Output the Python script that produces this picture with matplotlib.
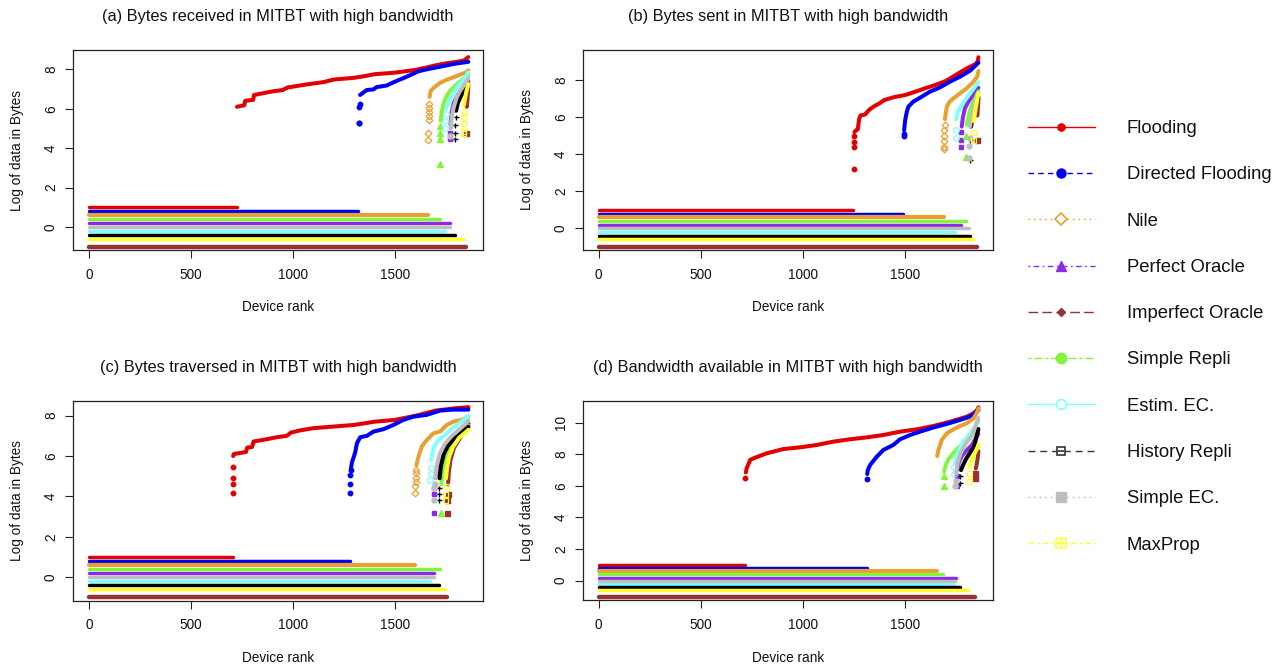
import matplotlib
matplotlib.use("Agg")
import matplotlib.pyplot as plt

plt.rcParams["font.family"] = ["Liberation Sans", "DejaVu Sans"]

W, H, DPI = 1283, 669, 100

# ---------------------------------------------------------------- series
SERIES = ["Flooding", "Directed Flooding", "Nile", "Perfect Oracle",
          "Imperfect Oracle", "Simple Repli", "Estim. EC.", "History Repli",
          "Simple EC.", "MaxProp"]
COLORS = ["#E30000", "#0000F2", "#E8A030", "#8C2BE6", "#963232",
          "#84F53C", "#80FFFF", "#000000", "#BEBEBE", "#FFFF30"]
# offset at which devices carrying no data are drawn
ZERO_LEVELS = [1.0, 0.8, 0.6, 0.2, -1.0, 0.4, -0.2, -0.4, 0.0, -0.6]

TITLES = ["(a) Bytes received in MITBT with high bandwidth",
          "(b) Bytes sent in MITBT with high bandwidth",
          "(c) Bytes traversed in MITBT with high bandwidth",
          "(d) Bandwidth available in MITBT with high bandwidth"]
X_TICKS = [0, 500, 1000, 1500]
Y_TICKS_BYTES = [0, 2, 4, 6, 8]
Y_TICKS_BW = [0, 2, 4, 6, 8, 10]

# ------------------------------------------------- (a) bytes received
RECV_ZERO = [725, 1322, 1664, 1770, 1851, 1722, 1745, 1796, 1772, 1834]
RECV_TAIL = {
    "Flooding": ([], []),
    "Directed Flooding": ([1323, 1325, 1327, 1328], [5.28, 5.28, 6.1, 6.22]),
    "Nile": ([1665, 1665, 1666, 1667, 1668, 1669, 1670], [4.4, 4.75, 5.45, 5.65, 5.85, 6.05, 6.25]),
    "Perfect Oracle": ([1771, 1771], [4.45, 4.75]),
    "Imperfect Oracle": ([1852], [4.75]),
    "Simple Repli": ([1723, 1723, 1723, 1724], [3.22, 4.45, 4.75, 5.1]),
    "Estim. EC.": ([1747, 1748, 1750], [5.0, 5.4, 5.75]),
    "History Repli": ([1797, 1797, 1798, 1799], [4.45, 4.75, 5.2, 5.6]),
    "Simple EC.": ([1773], [4.6]),
    "MaxProp": ([1835, 1835, 1836, 1837, 1838], [4.75, 4.85, 5.3, 5.6, 5.9]),
}
RECV_BODY = {
    "Flooding": ([726, 762, 766, 805, 810, 860, 900, 950, 975, 1000, 1060, 1100, 1150,
                  1200, 1300, 1350, 1400, 1500, 1600, 1650, 1700, 1750, 1800, 1840, 1861],
                 [6.1, 6.18, 6.4, 6.45, 6.7, 6.8, 6.88, 6.95, 7.08, 7.12, 7.22, 7.28, 7.35,
                  7.48, 7.57, 7.65, 7.75, 7.83, 7.97, 8.08, 8.2, 8.3, 8.37, 8.45, 8.62]),
    "Directed Flooding": ([1330, 1346, 1363, 1395, 1412, 1461, 1485, 1518, 1542, 1575,
                           1616, 1657, 1706, 1755, 1804, 1861],
                          [6.7, 6.82, 6.95, 6.98, 7.1, 7.18, 7.3, 7.45, 7.55, 7.7,
                           7.9, 8.0, 8.1, 8.2, 8.3, 8.38]),
    "Nile": ([1671, 1676, 1690, 1720, 1755, 1804, 1853, 1861],
             [6.6, 6.9, 7.05, 7.3, 7.47, 7.66, 7.86, 7.95]),
    "Perfect Oracle": ([1773, 1778, 1790, 1810, 1835, 1861], [5.2, 5.8, 6.3, 6.7, 7.05, 7.4]),
    "Imperfect Oracle": ([1854, 1857, 1860, 1861], [6.1, 6.5, 6.9, 7.2]),
    "Simple Repli": ([1726, 1730, 1738, 1750, 1770, 1800, 1830, 1861],
                     [5.4, 5.8, 6.2, 6.55, 6.9, 7.2, 7.45, 7.7]),
    "Estim. EC.": ([1752, 1760, 1772, 1790, 1805, 1838, 1861], [6.0, 6.2, 6.45, 6.8, 7.1, 7.45, 7.85]),
    "History Repli": ([1801, 1810, 1825, 1845, 1861], [5.9, 6.3, 6.65, 6.95, 7.25]),
    "Simple EC.": ([1775, 1780, 1790, 1805, 1820, 1840, 1861], [5.0, 5.6, 6.1, 6.6, 6.9, 7.2, 7.55]),
    "MaxProp": ([1840, 1845, 1852, 1861], [6.2, 6.55, 6.9, 7.25]),
}

# ----------------------------------------------------- (b) bytes sent
SENT_ZERO = [1248, 1493, 1690, 1774, 1852, 1799, 1748, 1820, 1815, 1833]
SENT_TAIL = {
    "Flooding": ([1249, 1250, 1251, 1252], [3.2, 4.4, 4.65, 5.0]),
    "Directed Flooding": ([1494, 1495], [5.0, 5.1]),
    "Nile": ([1691, 1691, 1692, 1693, 1694, 1695], [4.3, 4.4, 4.7, 5.0, 5.3, 5.6]),
    "Perfect Oracle": ([1775, 1776, 1777], [4.4, 4.75, 5.2]),
    "Imperfect Oracle": ([1853], [4.77]),
    "Simple Repli": ([1800, 1801], [3.84, 5.0]),
    "Estim. EC.": ([1749, 1750], [4.86, 5.3]),
    "History Repli": ([1821, 1822], [3.69, 4.8]),
    "Simple EC.": ([1816, 1817, 1818], [3.8, 4.47, 4.9]),
    "MaxProp": ([1834, 1835], [4.75, 5.2]),
}
SENT_BODY = {
    "Flooding": ([1253, 1262, 1270, 1276, 1283, 1305, 1325, 1350, 1375, 1400, 1450, 1500,
                  1550, 1600, 1650, 1700, 1750, 1800, 1850, 1858, 1861],
                 [5.2, 5.3, 5.35, 5.9, 6.1, 6.15, 6.4, 6.6, 6.75, 6.94, 7.1, 7.2,
                  7.38, 7.57, 7.75, 7.96, 8.29, 8.62, 8.9, 9.05, 9.25]),
    "Directed Flooding": ([1497, 1502, 1510, 1518, 1542, 1575, 1624, 1673, 1722, 1771, 1820, 1861],
                          [5.3, 5.85, 6.3, 6.58, 6.85, 7.06, 7.39, 7.62, 7.93, 8.2, 8.52, 8.95]),
    "Nile": ([1697, 1702, 1706, 1720, 1739, 1771, 1804, 1837, 1855, 1861],
             [5.9, 6.3, 6.58, 6.85, 7.03, 7.3, 7.57, 7.93, 8.2, 8.5]),
    "Perfect Oracle": ([1779, 1785, 1795, 1815, 1840, 1861], [5.5, 6.0, 6.5, 6.9, 7.25, 7.6]),
    "Imperfect Oracle": ([1856, 1859, 1861], [6.1, 6.6, 7.0]),
    "Simple Repli": ([1804, 1815, 1830, 1845, 1861], [5.6, 6.2, 6.7, 7.0, 7.4]),
    "Estim. EC.": ([1752, 1760, 1775, 1800, 1830, 1861], [5.9, 6.3, 6.6, 7.0, 7.45, 7.9]),
    "History Repli": ([1825, 1835, 1848, 1861], [5.5, 6.1, 6.6, 7.1]),
    "Simple EC.": ([1820, 1830, 1845, 1861], [5.5, 6.2, 6.8, 7.3]),
    "MaxProp": ([1838, 1845, 1853, 1861], [5.8, 6.3, 6.8, 7.3]),
}

# ------------------------------------------------ (c) bytes traversed
TRAV_ZERO = [704, 1280, 1600, 1692, 1757, 1724, 1673, 1716, 1693, 1747]
TRAV_TAIL = {
    "Flooding": ([705, 705, 706, 706], [4.16, 4.6, 4.9, 5.45]),
    "Directed Flooding": ([1281, 1281, 1282, 1283], [4.16, 4.62, 5.07, 5.3]),
    "Nile": ([1601, 1601, 1602, 1602, 1603, 1604], [4.16, 4.5, 4.7, 4.9, 5.15, 5.3]),
    "Perfect Oracle": ([1693, 1693, 1694], [3.2, 4.1, 4.4]),
    "Imperfect Oracle": ([1758, 1758, 1759], [3.2, 3.8, 4.1]),
    "Simple Repli": ([1725], [3.2]),
    "Estim. EC.": ([1674, 1675, 1676], [4.8, 5.1, 5.4]),
    "History Repli": ([1717, 1717, 1718], [3.8, 4.1, 4.4]),
    "Simple EC.": ([1694, 1694, 1695], [3.8, 4.4, 4.6]),
    "MaxProp": ([1748, 1748, 1749], [3.8, 4.1, 4.5]),
}
TRAV_BODY = {
    "Flooding": ([707, 710, 770, 776, 800, 807, 870, 920, 970, 990, 1040, 1100, 1200,
                  1300, 1400, 1500, 1600, 1700, 1800, 1861],
                 [6.0, 6.1, 6.2, 6.42, 6.45, 6.72, 6.83, 6.93, 7.0, 7.16, 7.28, 7.38, 7.46,
                  7.54, 7.7, 7.79, 7.99, 8.25, 8.37, 8.42]),
    "Directed Flooding": ([1285, 1290, 1300, 1306, 1314, 1330, 1363, 1395, 1444, 1493,
                           1542, 1592, 1657, 1722, 1788, 1861],
                          [5.4, 5.7, 6.0, 6.2, 6.63, 6.93, 7.0, 7.21, 7.33, 7.54,
                           7.79, 7.95, 8.04, 8.25, 8.3, 8.3]),
    "Nile": ([1606, 1612, 1620, 1632, 1657, 1690, 1722, 1755, 1788, 1828, 1861],
             [5.55, 5.8, 6.1, 6.47, 6.8, 7.13, 7.21, 7.54, 7.71, 7.79, 7.95]),
    "Perfect Oracle": ([1700, 1712, 1725, 1745, 1775, 1815, 1861], [4.9, 5.4, 5.9, 6.4, 6.85, 7.2, 7.6]),
    "Imperfect Oracle": ([1761, 1765, 1773, 1790, 1820, 1861], [4.6, 5.2, 5.8, 6.4, 6.9, 7.6]),
    "Simple Repli": ([1728, 1735, 1750, 1775, 1810, 1861], [4.6, 5.4, 6.0, 6.6, 7.0, 7.5]),
    "Estim. EC.": ([1678, 1685, 1695, 1710, 1740, 1780, 1820, 1861],
                   [5.8, 6.2, 6.5, 6.75, 7.0, 7.35, 7.65, 8.0]),
    "History Repli": ([1720, 1726, 1740, 1760, 1790, 1825, 1861], [4.9, 5.5, 6.1, 6.5, 6.85, 7.15, 7.45]),
    "Simple EC.": ([1698, 1705, 1720, 1745, 1780, 1820, 1861], [4.9, 5.5, 6.1, 6.6, 7.0, 7.35, 7.75]),
    "MaxProp": ([1751, 1756, 1766, 1785, 1815, 1861], [4.9, 5.4, 5.95, 6.45, 6.9, 7.3]),
}

# ----------------------------------------------- (d) bandwidth available
BW_ZERO = [717, 1313, 1658, 1753, 1843, 1689, 1741, 1771, 1747, 1812]
BW_TAIL = {
    "Flooding": ([718], [6.52]),
    "Directed Flooding": ([1314], [6.41]),
    "Nile": ([], []),
    "Perfect Oracle": ([1754, 1755], [6.0, 6.6]),
    "Imperfect Oracle": ([1844, 1845], [6.5, 6.8]),
    "Simple Repli": ([1690, 1691], [6.0, 6.65]),
    "Estim. EC.": ([1742, 1743], [6.75, 7.2]),
    "History Repli": ([1772, 1773], [6.2, 6.6]),
    "Simple EC.": ([1748, 1749], [6.0, 6.3]),
    "MaxProp": ([1813, 1814], [6.3, 6.8]),
}
BW_BODY = {
    "Flooding": ([721, 725, 733, 742, 758, 790, 823, 905, 987, 1069, 1150, 1232, 1314,
                  1395, 1477, 1559, 1641, 1722, 1804, 1837, 1852, 1861],
                 [6.85, 7.11, 7.35, 7.64, 7.74, 7.9, 8.06, 8.33, 8.44, 8.59, 8.8, 8.95, 9.07,
                  9.22, 9.43, 9.58, 9.79, 10.06, 10.38, 10.59, 10.75, 10.97]),
    "Directed Flooding": ([1316, 1319, 1330, 1363, 1395, 1444, 1477, 1526, 1575, 1641,
                           1706, 1771, 1820, 1861],
                          [6.75, 7.0, 7.32, 7.85, 8.27, 8.59, 8.95, 9.22, 9.43, 9.7,
                           9.92, 10.17, 10.38, 10.8]),
    "Nile": ([1659, 1665, 1681, 1706, 1739, 1771, 1804, 1837, 1856, 1861],
             [7.89, 8.27, 8.9, 9.32, 9.58, 9.79, 9.96, 10.27, 10.7, 10.9]),
    "Perfect Oracle": ([1758, 1765, 1780, 1800, 1830, 1861], [7.0, 7.5, 7.9, 8.2, 8.6, 9.3]),
    "Imperfect Oracle": ([1848, 1853, 1858, 1861], [7.1, 7.4, 7.8, 8.2]),
    "Simple Repli": ([1693, 1700, 1715, 1740, 1770, 1810, 1861], [6.9, 7.3, 7.7, 8.1, 8.5, 8.95, 9.55]),
    "Estim. EC.": ([1746, 1755, 1770, 1790, 1820, 1861], [7.4, 7.9, 8.4, 8.85, 9.3, 10.05]),
    "History Repli": ([1776, 1785, 1800, 1820, 1840, 1861], [7.0, 7.3, 7.7, 8.1, 8.5, 9.6]),
    "Simple EC.": ([1752, 1760, 1775, 1800, 1830, 1861], [6.8, 7.5, 8.1, 8.7, 9.2, 10.3]),
    "MaxProp": ([1818, 1828, 1840, 1852, 1861], [7.2, 7.6, 8.0, 8.3, 8.6]),
}

# ----------------------------------------------------------- styling
# point symbols used inside the panels
PANEL_MARKERS = [
    dict(marker="o", ms=3.2),
    dict(marker="o", ms=3.2),
    dict(marker="D", ms=3.4, mfc="none", mew=0.9),
    dict(marker="s", ms=3.2),
    dict(marker="s", ms=3.6),
    dict(marker="^", ms=3.8),
    dict(marker="o", ms=4.0, mfc="none", mew=0.9),
    dict(marker="+", ms=3.6, mew=1.0),
    dict(marker="o", ms=3.6),
    dict(marker="s", ms=3.6, mfc="none", mew=0.9),
]
BAR_WIDTHS = [2.5, 2.5, 3.0, 2.5, 3.2, 2.5, 2.5, 2.5, 2.5, 2.5]
CURVE_WIDTH = 2.9

# legend line styles and symbols
LEGEND_DASH = ["-", (0, (4, 3)), (0, (1.2, 2.8)), (0, (1.2, 2.5, 4, 2.5)),
               (0, (7, 3)), (0, (2.2, 2, 6, 2)), "-", (0, (5, 3.5)),
               (0, (1.2, 2.8)), (0, (4, 2.5, 1.2, 2.5))]
LEGEND_MARKERS = [
    [dict(marker="o", ms=5.2)],
    [dict(marker="o", ms=6.5)],
    [dict(marker="D", ms=6.5, mfc="white", mew=1.2)],
    [dict(marker="^", ms=7.5)],
    [dict(marker="D", ms=4.2)],
    [dict(marker="o", ms=7.5)],
    [dict(marker="o", ms=7.0, mfc="white", mew=1.2)],
    [dict(marker="s", ms=6.0, mfc="white", mew=1.2), dict(marker="_", ms=5.0, mew=1.2)],
    [dict(marker="s", ms=6.8)],
    [dict(marker="s", ms=6.6, mfc="white", mew=1.1), dict(marker="+", ms=6.6, mew=1.1)],
]
LEGEND_LINE_COLORS = list(COLORS)
LEGEND_LINE_COLORS[7] = "#333333"

FONT = 9.8


def px_box(left, top, right, bottom):
    return [left / W, 1 - bottom / H, (right - left) / W, (bottom - top) / H]


def draw_panel(ax, zero_counts, tails, bodies, yticks, xlim, ylim):
    for i, name in enumerate(SERIES):
        color = COLORS[i]
        level = ZERO_LEVELS[i]
        ax.plot([1, zero_counts[i]], [level, level], color=color,
                lw=BAR_WIDTHS[i], solid_capstyle="round", zorder=2 + i * 0.01)
        ranks, vals = bodies[name]
        ax.plot(ranks, vals, color=color, lw=CURVE_WIDTH, solid_capstyle="round",
                solid_joinstyle="round", zorder=3 + i * 0.01)
        tr, tv = tails[name]
        if tr:
            style = dict(PANEL_MARKERS[i])
            style.setdefault("mfc", color)
            ax.plot(tr, tv, ls="none", color=color, mec=color, zorder=3 + i * 0.01,
                    **style)
    ax.set_xlim(*xlim)
    ax.set_ylim(*ylim)
    ax.set_xticks(X_TICKS)
    ax.set_yticks(yticks)
    ax.tick_params(direction="out", length=5.5, width=0.8, labelsize=FONT,
                   color="#222222", labelcolor="#111111")
    ax.tick_params(axis="x", pad=7.2)
    ax.tick_params(axis="y", pad=5.6, labelrotation=90)
    for lbl in ax.get_yticklabels():
        lbl.set_va("center")
    for sp in ax.spines.values():
        sp.set_linewidth(0.9)
        sp.set_color("#222222")


fig = plt.figure(figsize=(W / DPI, H / DPI), dpi=DPI)

panels = [
    (px_box(73.3, 50, 483, 250.3), RECV_ZERO, RECV_TAIL, RECV_BODY, Y_TICKS_BYTES,
     (-77, 1933), (-1.18, 8.98)),
    (px_box(583.3, 50, 992.7, 250), SENT_ZERO, SENT_TAIL, SENT_BODY, Y_TICKS_BYTES,
     (-75.5, 1931), (-1.17, 9.64)),
    (px_box(73.3, 400.7, 482.7, 600.7), TRAV_ZERO, TRAV_TAIL, TRAV_BODY, Y_TICKS_BYTES,
     (-77, 1931), (-1.16, 8.74)),
    (px_box(583.3, 400.7, 992.7, 600), BW_ZERO, BW_TAIL, BW_BODY, Y_TICKS_BW,
     (-75.5, 1931), (-1.22, 11.39)),
]
title_y = [17, 17, 367.3, 367.3]
ylabel_x = [17.3, 526.7, 17.3, 526.7]
xlabel_y = [307, 307, 658.3, 658.3]

for k, (box, zc, tails, bodies, yt, xl, yl) in enumerate(panels):
    ax = fig.add_axes(box)
    draw_panel(ax, zc, tails, bodies, yt, xl, yl)
    left_px = box[0] * W
    right_px = (box[0] + box[2]) * W
    top_px = (1 - box[1] - box[3]) * H
    bot_px = (1 - box[1]) * H
    cx = (left_px + right_px) / 2
    cy = (top_px + bot_px) / 2
    fig.text(cx / W, 1 - title_y[k] / H, TITLES[k], ha="center", va="center",
             fontsize=11.75, color="#111111")
    fig.text(ylabel_x[k] / W, 1 - cy / H, "Log of data in Bytes", rotation=90,
             ha="center", va="center", fontsize=FONT, color="#111111")
    fig.text(cx / W, 1 - xlabel_y[k] / H, "Device rank", ha="center", va="center",
             fontsize=FONT, color="#111111")

# ------------------------------------------------------------- legend
lax = fig.add_axes([0, 0, 1, 1], facecolor="none")
lax.set_xlim(0, W)
lax.set_ylim(H, 0)
lax.axis("off")
row_y0, row_step = 126.7, 46.3
for i, name in enumerate(SERIES):
    y = row_y0 + i * row_step
    lax.plot([1028, 1095], [y, y], color=LEGEND_LINE_COLORS[i], lw=1.0,
             linestyle=LEGEND_DASH[i])
    for m in LEGEND_MARKERS[i]:
        style = dict(m)
        style.setdefault("mfc", COLORS[i])
        mcol = LEGEND_LINE_COLORS[i]
        lax.plot([1061], [y], ls="none", color=mcol, mec=mcol, **style)
    lax.text(1126.7, y + 1.8, name, ha="left", va="center", fontsize=13.3, color="#111111")

fig.savefig("out.png", dpi=DPI)
